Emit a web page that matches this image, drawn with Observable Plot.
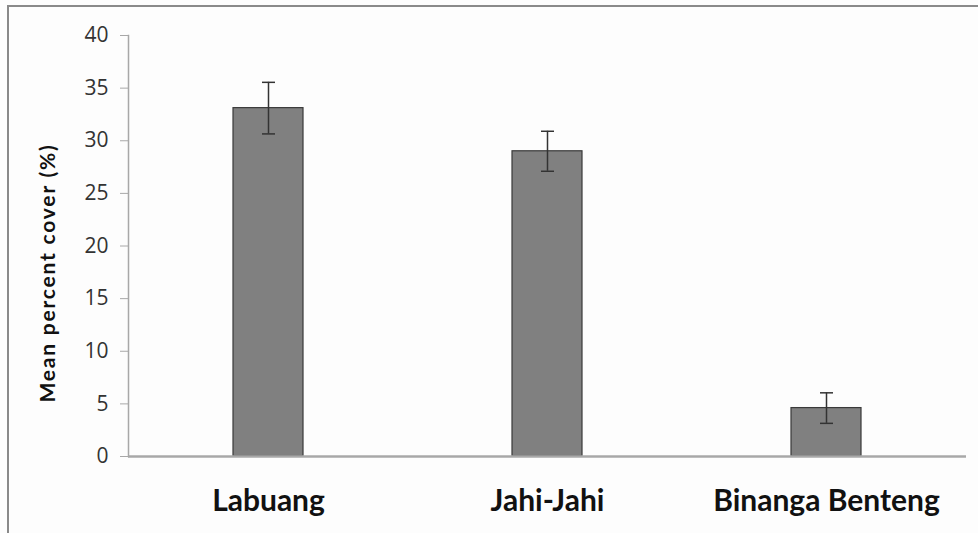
<!DOCTYPE html>
<html><head><meta charset="utf-8">
<script src="https://cdn.jsdelivr.net/npm/d3@7"></script>
<script src="https://cdn.jsdelivr.net/npm/@observablehq/plot@0.6"></script>
<style>
html,body{margin:0;padding:0;background:#fff;}
#wrap{position:relative;width:978px;height:533px;overflow:hidden;background:#fdfdfd;}
#frame{position:absolute;left:7px;top:5px;width:1000px;height:600px;border-top:2px solid #8a8a8a;border-left:2px solid #8a8a8a;box-sizing:border-box;}
#chart{position:absolute;left:0;top:0;}
</style></head>
<body><div id="wrap"><div id="frame"></div><div id="chart"></div></div>
<script>
const sites = ["Labuang", "Jahi-Jahi", "Binanga Benteng"];
const means = [33.1, 29.0, 4.6];
const errors = [2.45, 1.9, 1.45];
const yTicks = [0, 5, 10, 15, 20, 25, 30, 35, 40];

const data = sites.map((s, i) => ({site: s, mean: means[i], lo: means[i] - errors[i], hi: means[i] + errors[i]}));

const capSymbol = {draw(context) { context.moveTo(-6.5, 0); context.lineTo(6.5, 0); }};

const chart = Plot.plot({
  width: 978,
  height: 533,
  marginLeft: 128,
  marginRight: 12,
  marginTop: 35,
  marginBottom: 77,
  style: {background: "transparent", fontFamily: "Lato, 'Open Sans', sans-serif"},
  x: {domain: sites, paddingInner: 0.75, paddingOuter: 0.375, label: null},
  y: {domain: [0, 40], ticks: yTicks, label: null},
  marks: [
    Plot.barY(data, {x: "site", y: "mean", fill: "#808080", stroke: "#3a3a3a", strokeWidth: 1.2}),
    Plot.ruleX(data, {x: "site", y1: "lo", y2: "hi", stroke: "#333", strokeWidth: 1.5}),
    Plot.dot(data, {x: "site", y: "lo", symbol: capSymbol, stroke: "#333", strokeWidth: 1.5, fill: "none"}),
    Plot.dot(data, {x: "site", y: "hi", symbol: capSymbol, stroke: "#333", strokeWidth: 1.5, fill: "none"}),
    Plot.frame({anchor: "left", stroke: "#a8a8a8", strokeWidth: 1.5}),
    Plot.ruleY([0], {stroke: "#a8a8a8", strokeWidth: 2.5}),
    Plot.axisY({ticks: yTicks, tickSize: 8, tickPadding: 12, fontSize: 21, fontFamily: "'Open Sans', sans-serif", fill: "#333", stroke: "#a8a8a8", label: null}),
    Plot.axisX({tickSize: 0, tickPadding: 33, fontSize: 30, fontWeight: "bold", fill: "#111", label: null}),
    Plot.text(["Mean percent cover (%)"], {frameAnchor: "left", dx: -80, dy: 27, rotate: -90, fontSize: 21, fontWeight: "bold", fill: "#111", text: d => d, textAnchor: "middle", className: "ylab"})
  ]
});
chart.querySelectorAll(".ylab text").forEach(t => t.setAttribute("letter-spacing", "1.8"));
document.getElementById("chart").appendChild(chart);
</script></body></html>
